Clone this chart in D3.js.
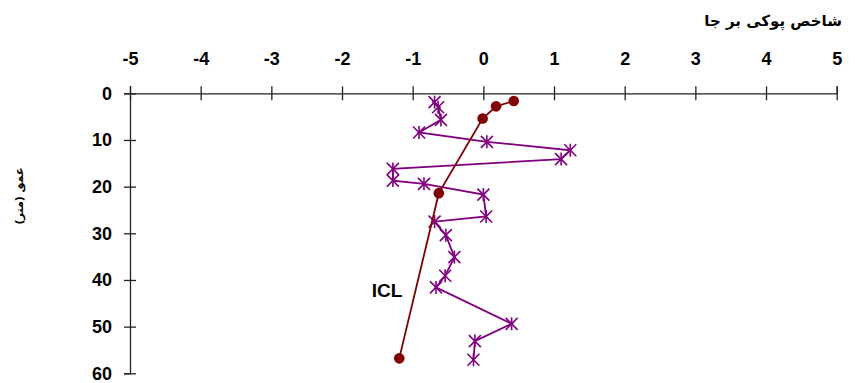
<!DOCTYPE html>
<html>
<head>
<meta charset="utf-8">
<script src="https://cdn.jsdelivr.net/npm/d3@7/dist/d3.min.js"></script>
<style>
  html, body { margin: 0; padding: 0; background: #fff; }
  svg { display: block; }
  .tick text { font-family: "Liberation Sans", Arial, sans-serif; font-weight: bold; font-size: 18px; fill: #000; }
</style>
</head>
<body>
<svg id="chart" width="855" height="383"></svg>
<script>
// Depth profile of the in-situ collapse index (شاخص پوکی بر جا)
const xTicks = [-5, -4, -3, -2, -1, 0, 1, 2, 3, 4, 5];
const yTicks = [0, 10, 20, 30, 40, 50, 60];

// Measured collapse index vs depth (m)
const pointIndex = [-0.69, -0.64, -0.60, -0.91, 0.05, 1.23, 1.10, -1.28, -1.28, -0.84, 0.00, 0.04, -0.69, -0.53, -0.41, -0.54, -0.67, 0.40, -0.12, -0.14];
const pointDepth = [1.9, 3.0, 5.7, 8.4, 10.4, 12.2, 14.1, 16.2, 18.7, 19.4, 21.7, 26.4, 27.5, 30.4, 35.1, 39.1, 41.6, 49.4, 53.1, 57.1];

// ICL reference line
const iclIndex = [0.43, 0.18, -0.01, -0.63, -1.19];
const iclDepth = [1.65, 2.8, 5.4, 21.4, 56.8];

const svg = d3.select("#chart");
const x = d3.scaleLinear().domain([-5, 5]).range([130, 836.7]);
const y = d3.scaleLinear().domain([0, 60]).range([93.3, 373.3]);

// Top x axis with ticks crossing the line
const gx = svg.append("g").attr("transform", `translate(0,${y(0)})`)
  .call(d3.axisTop(x).tickValues(xTicks).tickSize(7).tickFormat(d => String(d)));
gx.select(".domain").attr("stroke", "#222").attr("stroke-width", 1.3);
gx.selectAll(".tick line").attr("y1", 7).attr("y2", -7).attr("stroke", "#222").attr("stroke-width", 1.3);
gx.selectAll(".tick text").attr("dy", "0.35em").attr("y", -35);

// Left y axis
const gy = svg.append("g").attr("transform", `translate(${x(-5)},0)`)
  .call(d3.axisLeft(y).tickValues(yTicks).tickSize(6).tickFormat(d => String(d)));
gy.select(".domain").attr("stroke", "#222").attr("stroke-width", 1.3);
gy.selectAll(".tick line").attr("x1", -6).attr("x2", 6).attr("stroke", "#222").attr("stroke-width", 1.3);
gy.selectAll(".tick text").attr("x", -18);

// Measured series: purple line with star markers
const pts = pointIndex.map((v, i) => [v, pointDepth[i]]);
svg.append("path").datum(pts)
  .attr("fill", "none").attr("stroke", "#800080").attr("stroke-width", 1.8)
  .attr("d", d3.line().x(d => x(d[0])).y(d => y(d[1])));
const star = svg.append("g").selectAll("g").data(pts).join("g")
  .attr("transform", d => `translate(${x(d[0])},${y(d[1])})`)
  .attr("stroke", "#800080").attr("stroke-width", 1.6);
star.append("line").attr("x1", -6).attr("y1", -6).attr("x2", 6).attr("y2", 6);
star.append("line").attr("x1", -6).attr("y1", 6).attr("x2", 6).attr("y2", -6);
star.append("line").attr("x1", 0).attr("y1", -6.5).attr("x2", 0).attr("y2", 6.5);

// ICL series: dark red line with circle markers
const icl = iclIndex.map((v, i) => [v, iclDepth[i]]);
svg.append("path").datum(icl)
  .attr("fill", "none").attr("stroke", "#800000").attr("stroke-width", 1.8)
  .attr("d", d3.line().x(d => x(d[0])).y(d => y(d[1])));
svg.append("g").selectAll("circle").data(icl).join("circle")
  .attr("cx", d => x(d[0])).attr("cy", d => y(d[1])).attr("r", 5.3)
  .attr("fill", "#800000");

svg.append("text").attr("x", 387).attr("y", 292)
  .attr("text-anchor", "middle").attr("dominant-baseline", "middle")
  .attr("font-family", "Liberation Sans, Arial, sans-serif").attr("font-weight", "bold")
  .attr("font-size", 19).text("ICL");

// Axis titles
svg.append("text").attr("x", 842).attr("y", 21)
  .attr("text-anchor", "end").attr("dominant-baseline", "middle")
  .attr("font-family", "DejaVu Sans, sans-serif").attr("font-weight", "bold")
  .attr("font-size", 15)
  .text("شاخص پوکی بر جا");

svg.append("text").attr("transform", "translate(20,196) rotate(-90)")
  .attr("text-anchor", "middle").attr("dominant-baseline", "middle")
  .attr("font-family", "DejaVu Sans, sans-serif").attr("font-weight", "bold")
  .attr("font-size", 11)
  .text("عمق (متر)");
</script>
</body>
</html>
